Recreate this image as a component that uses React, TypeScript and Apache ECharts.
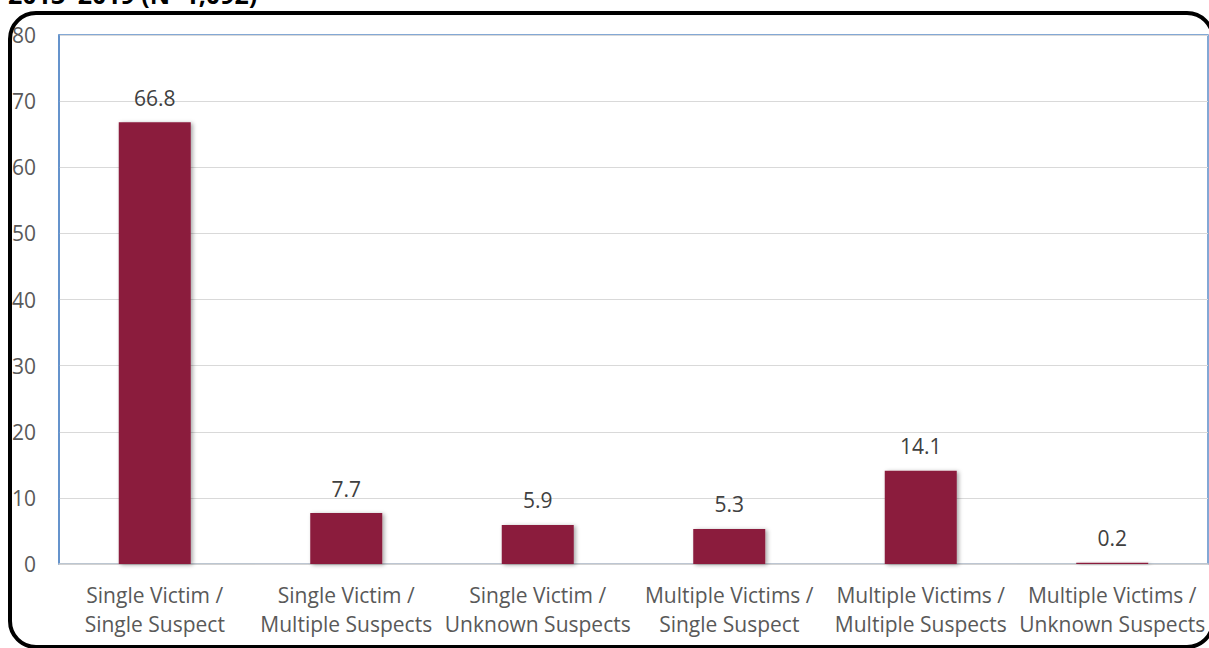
import React, { useEffect, useRef } from "react";
import * as echarts from "echarts";

const categories = [
  "Single Victim /\nSingle Suspect",
  "Single Victim /\nMultiple Suspects",
  "Single Victim /\nUnknown Suspects",
  "Multiple Victims /\nSingle Suspect",
  "Multiple Victims /\nMultiple Suspects",
  "Multiple Victims /\nUnknown Suspects",
];
const percentages = [66.8, 7.7, 5.9, 5.3, 14.1, 0.2];
const titleText = "2013–2019 (N=1,092)";

const FONT = "'Open Sans', 'Noto Sans', sans-serif";

export default function App() {
  const ref = useRef<HTMLDivElement>(null);

  useEffect(() => {
    document.body.style.margin = "0";
    const chart = echarts.init(ref.current!, null, { renderer: "svg" });
    chart.setOption({
      animation: false,
      backgroundColor: "#ffffff",
      grid: {
        left: 59,
        right: 1,
        top: 35,
        bottom: 84,
        show: true,
        borderColor: "#5B8CC8",
        borderWidth: 1.5,
      },
      xAxis: {
        type: "category",
        data: categories,
        axisLine: { lineStyle: { color: "#D0D0D0", width: 1.5 } },
        axisTick: { show: false },
        axisLabel: {
          color: "#595959",
          fontFamily: FONT,
          fontSize: 21,
          lineHeight: 29,
          margin: 16,
          interval: 0,
        },
      },
      yAxis: {
        type: "value",
        min: 0,
        max: 80,
        interval: 10,
        axisLine: { show: true, lineStyle: { color: "#5B8CC8", width: 1.5 } },
        axisTick: { show: false },
        splitLine: { lineStyle: { color: "#D9D9D9", width: 1.2 } },
        axisLabel: {
          color: "#595959",
          fontFamily: FONT,
          fontSize: 21,
          margin: 23,
        },
      },
      series: [
        {
          type: "bar",
          data: percentages,
          barWidth: "37.6%",
          itemStyle: {
            color: "#8B1C3E",
            shadowColor: "rgba(0,0,0,0.35)",
            shadowBlur: 4,
            shadowOffsetX: 2,
            shadowOffsetY: 1,
          },
          label: {
            show: true,
            position: "top",
            distance: 14,
            color: "#404040",
            fontFamily: FONT,
            fontSize: 21,
            formatter: (p: any) => p.value.toFixed(1),
          },
        },
      ],
      graphic: [
        {
          type: "rect",
          shape: { x: 10, y: 13, width: 1203, height: 634, r: 26 },
          style: { fill: "none", stroke: "#000", lineWidth: 4 },
          silent: true,
          z: 10,
        },
        {
          type: "text",
          left: 8,
          top: -19,
          style: {
            text: titleText,
            fill: "#000",
            font: "bold 25px 'Open Sans', sans-serif",
          },
          z: 10,
        },
      ],
    });
    return () => chart.dispose();
  }, []);

  return <div ref={ref} style={{ width: 1209, height: 648 }} />;
}
